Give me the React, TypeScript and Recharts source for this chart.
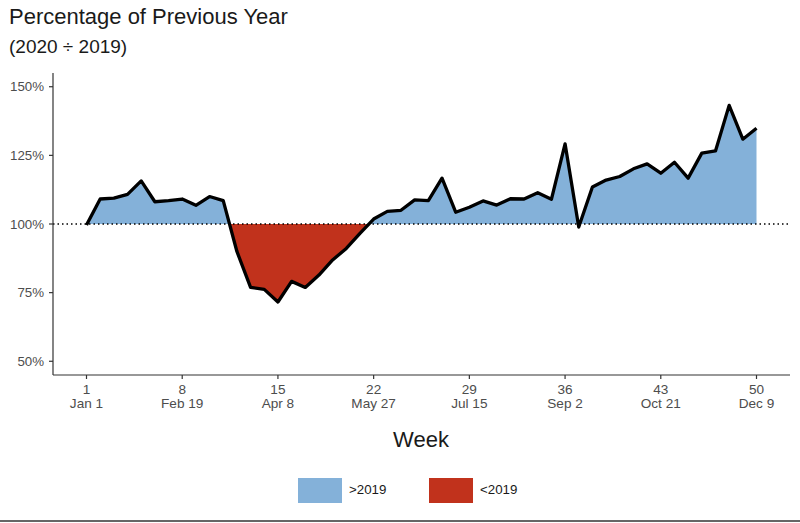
import { ComposedChart, Area, XAxis, YAxis, ReferenceLine } from 'recharts';

// week numbers and 2020/2019 ratio (%)
const weeks = [
  1, 2, 3, 4, 5, 6, 7, 8, 9, 10, 11, 12, 13, 14, 15, 16, 17, 18, 19, 20, 21, 22, 23, 24, 25,
  26, 27, 28, 29, 30, 31, 32, 33, 34, 35, 36, 37, 38, 39, 40, 41, 42, 43, 44, 45, 46, 47, 48, 49, 50,
];
const pct = [
  99.6, 109.1, 109.4, 110.8, 115.7, 108.1, 108.5, 109.1, 106.8, 110.0, 108.5, 90.0, 76.9, 76.2, 71.6,
  79.1, 76.9, 81.4, 86.9, 91.1, 96.6, 101.8, 104.6, 105.0, 108.8, 108.5, 116.7, 104.3, 106.1, 108.4,
  106.9, 109.2, 109.1, 111.4, 109.0, 129.2, 98.9, 113.5, 116.0, 117.3, 120.1, 121.9, 118.5, 122.5,
  116.7, 125.8, 126.6, 143.2, 130.9, 134.9,
];
const tickWeeks = [1, 8, 15, 22, 29, 36, 43, 50];
const tickDates = ['Jan 1', 'Feb 19', 'Apr 8', 'May 27', 'Jul 15', 'Sep 2', 'Oct 21', 'Dec 9'];
const yTicks = [50, 75, 100, 125, 150];

const BLUE = '#84b1d9';
const RED = '#c1321c';
const FONT = '"Liberation Sans", Arial, sans-serif';

const data = weeks.map((w, i) => ({ week: w, pct: pct[i] }));

// where 100% falls inside the area's bounding box
const maxV = Math.max(...pct);
const minV = Math.min(...pct);
const splitOffset = (maxV - 100) / (maxV - minV);

const WeekTick = ({ x, y, payload }: any) => {
  const idx = tickWeeks.indexOf(payload.value);
  return (
    <g>
      <text x={x} y={y} dy={13} textAnchor="middle" fill="#4d4d4d" fontSize={13.6} fontFamily={FONT}>
        {payload.value}
      </text>
      <text x={x} y={y} dy={27} textAnchor="middle" fill="#4d4d4d" fontSize={13.6} fontFamily={FONT}>
        {tickDates[idx]}
      </text>
    </g>
  );
};

export default function App() {
  return (
    <div style={{ position: 'absolute', left: 0, top: 0, width: 800, height: 523, background: '#fff', fontFamily: FONT }}>
      <div style={{ position: 'absolute', left: 9, top: 4, fontSize: 22, color: '#1a1a1a', whiteSpace: 'nowrap' }}>
        Percentage of Previous Year
      </div>
      <div style={{ position: 'absolute', left: 9, top: 36, fontSize: 19, color: '#1a1a1a', whiteSpace: 'nowrap' }}>
        (2020 ÷ 2019)
      </div>

      <ComposedChart
        width={800}
        height={523}
        data={data}
        margin={{ top: 73, right: 10, bottom: 0, left: 0 }}
      >
        <defs>
          <linearGradient id="splitFill" x1="0" y1="0" x2="0" y2="1">
            <stop offset={splitOffset} stopColor={BLUE} stopOpacity={1} />
            <stop offset={splitOffset} stopColor={RED} stopOpacity={1} />
          </linearGradient>
        </defs>
        <XAxis
          dataKey="week"
          type="number"
          domain={[-1.45, 52.45]}
          ticks={tickWeeks}
          allowDataOverflow
          height={148}
          tickSize={4}
          tickMargin={2}
          tick={<WeekTick />}
          stroke="#333"
          axisLine={{ stroke: '#333', strokeWidth: 1.2 }}
          tickLine={{ stroke: '#333', strokeWidth: 1.2 }}
        />
        <YAxis
          type="number"
          domain={[45, 155]}
          ticks={yTicks}
          allowDataOverflow
          width={53}
          tickSize={4}
          tickMargin={5}
          tickFormatter={(v) => `${v}%`}
          tick={{ fill: '#4d4d4d', fontSize: 13.3, fontFamily: FONT }}
          stroke="#333"
          axisLine={{ stroke: '#333', strokeWidth: 1.2 }}
          tickLine={{ stroke: '#333', strokeWidth: 1.2 }}
        />
        <Area
          type="linear"
          dataKey="pct"
          baseValue={100}
          stroke="#000"
          strokeWidth={3.3}
          strokeLinejoin="round"
          fill="url(#splitFill)"
          fillOpacity={1}
          dot={false}
          activeDot={false}
          isAnimationActive={false}
        />
        <ReferenceLine y={100} stroke="#000" strokeWidth={1.5} strokeDasharray="1.5 3" />
      </ComposedChart>

      <div style={{ position: 'absolute', left: 321, width: 200, top: 427, textAlign: 'center', fontSize: 22, color: '#1a1a1a' }}>
        Week
      </div>

      <div style={{ position: 'absolute', left: 298, top: 478, width: 44, height: 25, background: BLUE }} />
      <div style={{ position: 'absolute', left: 349, top: 482, fontSize: 13.3, color: '#1a1a1a' }}>&gt;2019</div>
      <div style={{ position: 'absolute', left: 429, top: 478, width: 44, height: 25, background: RED }} />
      <div style={{ position: 'absolute', left: 480, top: 482, fontSize: 13.3, color: '#1a1a1a' }}>&lt;2019</div>

      <div style={{ position: 'absolute', left: 0, top: 520, width: 800, height: 2, background: '#666' }} />
    </div>
  );
}
